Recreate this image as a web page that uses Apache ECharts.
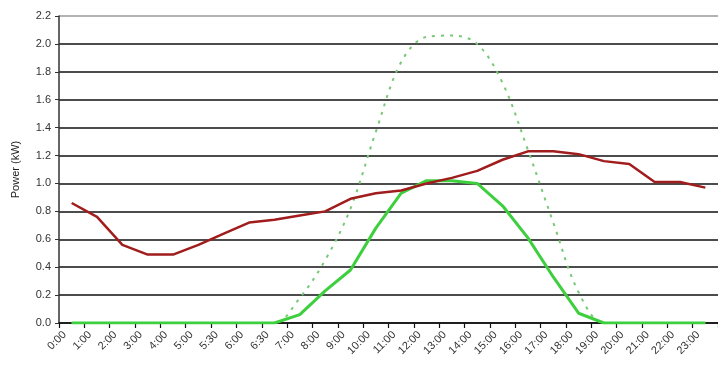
<!DOCTYPE html>
<html>
<head>
<meta charset="utf-8">
<script src="https://cdn.jsdelivr.net/npm/echarts@6/dist/echarts.min.js"></script>
<style>
html,body{margin:0;padding:0;background:#fff;}
#c{width:718px;height:369px;}
</style>
</head>
<body>
<div id="c"></div>
<script>
var categories = ['0:00','1:00','2:00','3:00','4:00','5:00','5:30','6:00','6:30','7:00','8:00','9:00','10:00','11:00','12:00','13:00','14:00','15:00','16:00','17:00','18:00','19:00','20:00','21:00','22:00','23:00'];
var consumption = [0.86,0.76,0.56,0.49,0.49,0.56,0.64,0.72,0.74,0.77,0.80,0.89,0.93,0.95,1.00,1.04,1.09,1.17,1.23,1.23,1.21,1.16,1.14,1.01,1.01,0.97];
var pvActual = [0,0,0,0,0,0,0,0,0,0.06,0.23,0.38,0.68,0.93,1.02,1.02,1.00,0.84,0.61,0.33,0.07,0,0,0,0,0];
var pvClearSky = [0,0,0,0,0,0,0,0,0,0.18,0.45,0.82,1.37,1.87,2.05,2.06,2.00,1.72,1.24,0.72,0.22,0,0,0,0,0];
var yTicks = [0,0.2,0.4,0.6,0.8,1.0,1.2,1.4,1.6,1.8,2.0,2.2];

var chart = echarts.init(document.getElementById('c'), null, {renderer:'canvas'});
var gridColors = yTicks.map(function(v,i){ return i === yTicks.length-1 ? '#9a9a9a' : '#111'; });
chart.setOption({
  animation:false,
  backgroundColor:'#fff',
  grid:{left:59, top:16, bottom:46, width:667, containLabel:false},
  xAxis:{
    type:'category',
    data:categories,
    boundaryGap:true,
    axisLine:{lineStyle:{color:'#111', width:1.5}},
    axisTick:{show:true, length:5, lineStyle:{color:'#111', width:1.2}},
    axisLabel:{rotate:45, fontFamily:'Liberation Sans, Arial', fontSize:11, color:'#333', margin:3, padding:[0,10,0,0], interval:0}
  },
  yAxis:{
    type:'value',
    min:0, max:2.2, interval:0.2,
    name:'Power (kW)',
    nameLocation:'middle',
    nameGap:38,
    nameTextStyle:{fontFamily:'Liberation Sans, Arial', fontSize:11, color:'#222'},
    axisLine:{show:true, lineStyle:{color:'#333', width:1.5}},
    axisTick:{show:true, length:4, lineStyle:{color:'#333'}},
    axisLabel:{fontFamily:'Liberation Sans, Arial', fontSize:11, color:'#333', margin:8, formatter:function(v){return v.toFixed(1);}},
    splitLine:{show:true, lineStyle:{color:gridColors, width:1.5}}
  },
  series:[
    {type:'line', data:pvClearSky, smooth:0.35, symbol:'none',
     lineStyle:{color:'#78c878', width:2, type:[3,6]}, z:2},
    {type:'line', data:pvActual, symbol:'none',
     lineStyle:{color:'#3ecf3e', width:3}, z:3},
    {type:'line', data:consumption, symbol:'none',
     lineStyle:{color:'#a11c1c', width:2.5}, z:4}
  ]
});
</script>
</body>
</html>
